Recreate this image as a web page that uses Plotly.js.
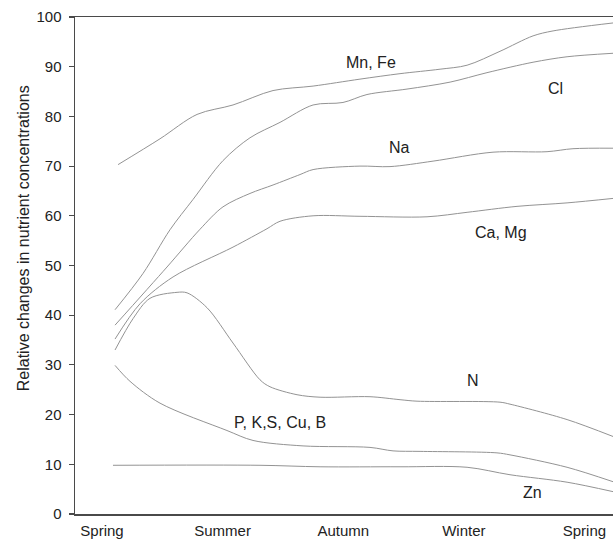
<!DOCTYPE html>
<html><head><meta charset="utf-8">
<script src="https://cdn.plot.ly/plotly-3.0.1.min.js"></script>
<style>html,body{margin:0;padding:0;background:#fff;}#chart{width:613px;height:543px;}</style>
</head><body><div id="chart"></div>
<script>
// Season tick labels (x = season index)
const seasonTicks = [0, 1, 2, 3, 4];
const seasonLabels = ["Spring", "Summer", "Autumn", "Winter", "Spring"];
const yTicks = [0, 10, 20, 30, 40, 50, 60, 70, 80, 90, 100];

// Series
const mnFeX = [0.133, 0.481, 0.788, 1.086, 1.418, 1.75, 2.139, 2.471, 2.803, 3.027, 3.3, 3.574, 3.74, 4.237];
const mnFeY = [70.3, 75.5, 80.4, 82.3, 85.2, 86.1, 87.5, 88.6, 89.5, 90.3, 93.1, 96.2, 97.2, 98.8];

const clX = [0.108, 0.34, 0.564, 0.755, 1.003, 1.227, 1.476, 1.75, 1.998, 2.197, 2.529, 2.886, 3.192, 3.574, 3.856, 4.237];
const clY = [41.1, 48.4, 57.2, 63.3, 71.1, 75.7, 78.8, 82.3, 82.8, 84.4, 85.5, 86.9, 88.8, 90.9, 92.0, 92.7];

const naX = [0.108, 0.539, 0.813, 1.003, 1.227, 1.418, 1.642, 1.75, 2.139, 2.388, 2.745, 3.242, 3.69, 3.905, 4.237];
const naY = [38.0, 49.7, 57.3, 61.8, 64.5, 66.2, 68.3, 69.3, 70.0, 69.9, 71.0, 72.8, 72.9, 73.5, 73.6];

const caMgX = [0.108, 0.315, 0.589, 1.086, 1.368, 1.476, 1.75, 2.139, 2.695, 3.027, 3.441, 3.856, 4.237];
const caMgY = [35.2, 42.3, 47.7, 53.7, 57.4, 58.9, 60.0, 59.9, 59.8, 60.7, 61.9, 62.6, 63.5];

const nX = [0.108, 0.257, 0.398, 0.622, 0.705, 0.871, 1.086, 1.31, 1.393, 1.617, 1.808, 2.222, 2.471, 2.612, 3.3, 3.383, 3.856, 4.237];
const nY = [33.0, 39.3, 43.4, 44.6, 44.5, 41.5, 34.4, 27.0, 25.6, 24.0, 23.5, 23.6, 23.0, 22.7, 22.5, 22.1, 19.0, 15.6];

const pkX = [0.108, 0.232, 0.481, 1.036, 1.252, 1.667, 2.222, 2.413, 2.637, 3.275, 3.383, 3.856, 4.237];
const pkY = [29.9, 26.7, 22.3, 16.8, 14.8, 13.7, 13.4, 12.7, 12.6, 12.3, 11.9, 9.4, 6.5];

const znX = [0.091, 1.31, 1.808, 2.471, 3.027, 3.383, 3.856, 4.237];
const znY = [9.8, 9.8, 9.5, 9.5, 9.4, 7.9, 6.4, 4.5];

const seriesNames = ["Mn, Fe", "Cl", "Na", "Ca, Mg", "N", "P, K,S, Cu, B", "Zn"];
const seriesX = [mnFeX, clX, naX, caMgX, nX, pkX, znX];
const seriesY = [mnFeY, clY, naY, caMgY, nY, pkY, znY];

const traces = seriesNames.map((name, i) => ({
  type: 'scatter', mode: 'lines', name: name,
  x: seriesX[i], y: seriesY[i],
  line: {color: '#939393', width: 1, shape: 'spline', smoothing: 0.9},
  hoverinfo: 'skip'
}));

const font = "'Liberation Sans', Arial, Helvetica, sans-serif";
const lab = (text, x, y) => ({text, x, y, xref: 'x', yref: 'y', showarrow: false,
  font: {family: font, size: 16, color: '#222'}});

const layout = {
  width: 613, height: 543,
  margin: {l: 75, r: 0, t: 17, b: 29},
  paper_bgcolor: '#ffffff', plot_bgcolor: '#ffffff',
  showlegend: false,
  font: {family: font, color: '#222'},
  xaxis: {
    range: [-0.224, 4.237], tickvals: seasonTicks, ticktext: seasonLabels,
    showgrid: false, zeroline: false, showline: true, mirror: true,
    linecolor: '#4a4a4a', linewidth: 1.5,
    ticks: 'outside', ticklen: 2, tickcolor: 'rgba(0,0,0,0)',
    tickfont: {family: font, size: 15, color: '#222'}
  },
  yaxis: {
    range: [0, 100], tickvals: yTicks,
    showgrid: false, zeroline: false, showline: true,
    linecolor: '#4a4a4a', linewidth: 1.5,
    ticks: 'outside', ticklen: 5, tickcolor: '#4a4a4a', tickwidth: 1.2,
    ticklabelstandoff: 4,
    tickfont: {family: font, size: 15, color: '#222'}
  },
  annotations: [
    lab(seriesNames[0], 2.23, 90.9),
    lab(seriesNames[1], 3.76, 85.7),
    lab(seriesNames[2], 2.47, 73.8),
    lab(seriesNames[3], 3.31, 56.7),
    lab(seriesNames[4], 3.08, 26.8),
    lab(seriesNames[5], 1.476, 18.5),
    lab(seriesNames[6], 3.57, 4.4),
    {text: 'Relative changes in nutrient concentrations', xref: 'paper', yref: 'paper',
     x: -0.116, y: 0.555, textangle: -90, showarrow: false,
     font: {family: font, size: 16, color: '#222'}}
  ]
};

Plotly.newPlot('chart', traces, layout, {displayModeBar: false, staticPlot: true});
</script>
</body></html>
